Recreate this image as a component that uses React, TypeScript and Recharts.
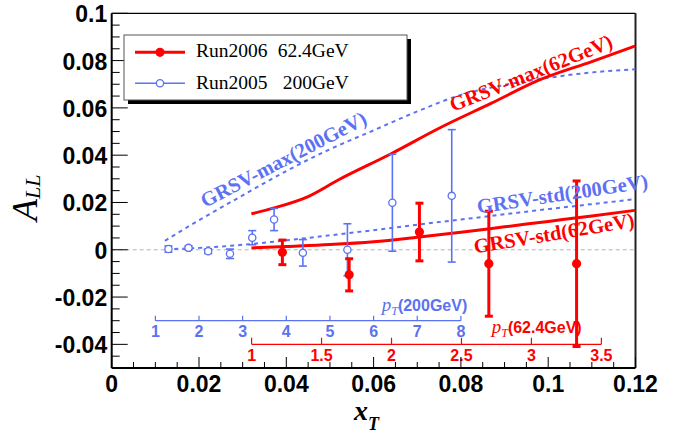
import React from 'react';
import { ComposedChart, Line, Scatter, ErrorBar, XAxis, YAxis, ReferenceLine } from 'recharts';

const RED = '#ff0000';
const BLUE = '#5b72f2';
const SANS = '"Liberation Sans", Arial, sans-serif';
const SERIF = '"Liberation Serif", "Times New Roman", serif';

// Run2006 62.4 GeV (filled red)
const run06X = [0.0391, 0.0544, 0.0705, 0.0864, 0.1065];
const run06Y = [-0.0011, -0.0106, 0.0075, -0.0059, -0.0059];
const run06Err = [0.0052, 0.0068, 0.0122, 0.0222, 0.035];

// Run2005 200 GeV (open blue)
const run05X = [0.013, 0.0176, 0.0221, 0.0271, 0.0322, 0.0372, 0.0438, 0.054, 0.0643, 0.0779];
const run05Y = [0.0003, 0.0008, -0.0006, -0.0017, 0.0051, 0.0128, -0.0013, 0.0, 0.0199, 0.0228];
const run05Err = [0.0013, 0.0008, 0.001, 0.002, 0.003, 0.0047, 0.0056, 0.011, 0.0205, 0.028];

// theory curves
const maxX62 = [0.032, 0.037, 0.045, 0.052, 0.064, 0.075, 0.087, 0.098, 0.11, 0.12];
const maxY62 = [0.0152, 0.0176, 0.0225, 0.0296, 0.0406, 0.0514, 0.062, 0.0718, 0.0796, 0.0862];
const stdX62 = [0.032, 0.04, 0.05, 0.06, 0.07, 0.08, 0.09, 0.1, 0.11, 0.12];
const stdY62 = [0.0008, 0.0014, 0.0022, 0.0034, 0.0053, 0.0074, 0.0097, 0.012, 0.0143, 0.0167];
const maxX200 = [0.0122, 0.02, 0.03, 0.04, 0.05, 0.06, 0.07, 0.08, 0.09, 0.1, 0.11, 0.12];
const maxY200 = [0.0038, 0.0125, 0.023, 0.0333, 0.0425, 0.0505, 0.0585, 0.0655, 0.0697, 0.0727, 0.075, 0.0763];
const stdX200 = [0.0125, 0.02, 0.03, 0.04, 0.05, 0.06, 0.07, 0.08, 0.09, 0.1, 0.11, 0.12];
const stdY200 = [0.0002, 0.0008, 0.0021, 0.004, 0.0061, 0.0083, 0.0106, 0.0128, 0.015, 0.0172, 0.0193, 0.0214];

// axis ticks (every 0.005, labelled every 0.02)
const xTicks = [0, 0.005, 0.01, 0.015, 0.02, 0.025, 0.03, 0.035, 0.04, 0.045, 0.05, 0.055, 0.06,
  0.065, 0.07, 0.075, 0.08, 0.085, 0.09, 0.095, 0.1, 0.105, 0.11, 0.115, 0.12];
const yTicks = [-0.05, -0.045, -0.04, -0.035, -0.03, -0.025, -0.02, -0.015, -0.01, -0.005, 0,
  0.005, 0.01, 0.015, 0.02, 0.025, 0.03, 0.035, 0.04, 0.045, 0.05, 0.055, 0.06, 0.065, 0.07,
  0.075, 0.08, 0.085, 0.09, 0.095, 0.1];

// secondary pT scales
const pt200Ticks = [1, 2, 3, 4, 5, 6, 7, 8];
const pt62Ticks = [1, 1.5, 2, 2.5, 3, 3.5];
const pt62Labels = ['1', '1.5', '2', '2.5', '3', '3.5'];

const zip = (xs: number[], ys: number[], es?: number[]) =>
  xs.map((x, i) => ({ x, y: ys[i], err: es ? es[i] : 0 }));

const run06 = zip(run06X, run06Y, run06Err);
const run05 = zip(run05X, run05Y, run05Err);
const max62 = zip(maxX62, maxY62);
const std62 = zip(stdX62, stdY62);
const max200 = zip(maxX200, maxY200);
const std200 = zip(stdX200, stdY200);

const isMajor = (v: number) => Math.abs(Math.round(v * 1000)) % 20 === 0;
const fmt = (v: number) => String(Number(v.toFixed(3)));

const YTick = (props: any) => {
  const { x, y, payload } = props;
  const major = isMajor(payload.value);
  return (
    <g>
      <line x1={x} y1={y} x2={x + (major ? 16 : 8)} y2={y} stroke="#000" strokeWidth={1} />
      {major && (
        <text x={x - 4.5} y={y + 9} textAnchor="end" fontFamily={SANS} fontWeight="bold" fontSize={23} fill="#000">
          {fmt(payload.value)}
        </text>
      )}
    </g>
  );
};

const XTick = (props: any) => {
  const { x, y, payload } = props;
  const major = isMajor(payload.value);
  return (
    <g>
      <line x1={x} y1={y} x2={x} y2={y - (major ? 11 : 6)} stroke="#000" strokeWidth={1} />
      {major && (
        <text x={x} y={y + 24} textAnchor="middle" fontFamily={SANS} fontWeight="bold" fontSize={23} fill="#000">
          {fmt(payload.value)}
        </text>
      )}
    </g>
  );
};

const ptLabel = (text: string, color: string) => (p: any) => {
  const vb = p.viewBox || {};
  return (
    <text x={vb.x + (vb.width || 0) / 2} y={vb.y + (vb.height || 0) + 16.5} textAnchor="middle"
      fontFamily={SANS} fontWeight="bold" fontSize={16} fill={color}>
      {text}
    </text>
  );
};

const openCircle = (p: any) => <circle cx={p.cx} cy={p.cy} r={3.6} fill="#fff" stroke={BLUE} strokeWidth={1.3} />;
const fullCircle = (p: any) => <circle cx={p.cx} cy={p.cy} r={4.6} fill={RED} />;

export default function App() {
  const y200 = -0.03;
  const y62 = -0.04;
  return (
    <div style={{ position: 'absolute', left: 0, top: 0, width: 684, height: 439, background: '#fff' }}>
      <ComposedChart width={684} height={439} margin={{ top: 13.3, right: 48.5, bottom: 21, left: 51.7 }}>
        <XAxis type="number" dataKey="x" domain={[0, 0.12]} ticks={xTicks} interval={0}
          tick={<XTick />} tickLine={false} tickSize={0} tickMargin={0} height={50}
          axisLine={{ stroke: '#000', strokeWidth: 2 }} allowDataOverflow />
        <YAxis type="number" dataKey="y" domain={[-0.05, 0.1]} ticks={yTicks} interval={0}
          tick={<YTick />} tickLine={false} tickSize={0} tickMargin={0} width={60}
          axisLine={{ stroke: '#000', strokeWidth: 2 }} allowDataOverflow />

        <ReferenceLine y={0} stroke="#b4b4b4" strokeDasharray="4 3" strokeWidth={1} />
        <ReferenceLine y={0.1} stroke="#000" strokeWidth={1.2} />
        <ReferenceLine x={0.12} stroke="#222" strokeWidth={2} />

        {/* pT(200GeV) scale */}
        <ReferenceLine segment={[{ x: (2 * pt200Ticks[0]) / 200, y: y200 }, { x: (2 * pt200Ticks[pt200Ticks.length - 1]) / 200, y: y200 }]}
          stroke={BLUE} strokeWidth={1.2} />
        {pt200Ticks.map((pt) => (
          <ReferenceLine key={`b${pt}`} segment={[{ x: (2 * pt) / 200, y: y200 + 0.0021 }, { x: (2 * pt) / 200, y: y200 }]}
            stroke={BLUE} strokeWidth={1.2} label={ptLabel(String(pt), BLUE)} />
        ))}
        {/* pT(62.4GeV) scale */}
        <ReferenceLine segment={[{ x: (2 * pt62Ticks[0]) / 62.4, y: y62 }, { x: (2 * pt62Ticks[pt62Ticks.length - 1]) / 62.4, y: y62 }]}
          stroke={RED} strokeWidth={1.2} />
        {pt62Ticks.map((pt, i) => (
          <ReferenceLine key={`r${pt}`} segment={[{ x: (2 * pt) / 62.4, y: y62 + 0.0028 }, { x: (2 * pt) / 62.4, y: y62 }]}
            stroke={RED} strokeWidth={1.2} label={ptLabel(pt62Labels[i], RED)} />
        ))}

        <Line data={max200} dataKey="y" type="monotone" stroke={BLUE} strokeWidth={2} strokeDasharray="4 4" dot={false} isAnimationActive={false} />
        <Line data={std200} dataKey="y" type="monotone" stroke={BLUE} strokeWidth={2} strokeDasharray="4 4" dot={false} isAnimationActive={false} />
        <Line data={max62} dataKey="y" type="monotone" stroke={RED} strokeWidth={3} dot={false} isAnimationActive={false} />
        <Line data={std62} dataKey="y" type="monotone" stroke={RED} strokeWidth={3} dot={false} isAnimationActive={false} />

        <Scatter data={run05} dataKey="y" shape={openCircle} isAnimationActive={false}>
          <ErrorBar dataKey="err" direction="y" width={4} stroke={BLUE} strokeWidth={1.6} />
        </Scatter>
        <Scatter data={run06} dataKey="y" shape={fullCircle} isAnimationActive={false}>
          <ErrorBar dataKey="err" direction="y" width={4} stroke={RED} strokeWidth={3} />
        </Scatter>
      </ComposedChart>

      <svg width={684} height={439} style={{ position: 'absolute', left: 0, top: 0, pointerEvents: 'none' }}>
        {/* legend */}
        <rect x={128} y={39} width={283} height={65} fill="#000" />
        <rect x={124} y={35} width={283} height={65} fill="#fff" stroke="#555" strokeWidth={1} />
        <line x1={135} y1={52.3} x2={185} y2={52.3} stroke={RED} strokeWidth={3} />
        <circle cx={160} cy={52.3} r={4.6} fill={RED} />
        <text y={56.7} fontFamily={SERIF} fontSize={19.5} fill="#000">
          <tspan x={196}>Run2006</tspan>
          <tspan x={277.7}>62.4GeV</tspan>
        </text>
        <line x1={135} y1={83.3} x2={185} y2={83.3} stroke={BLUE} strokeWidth={1.5} />
        <circle cx={160} cy={83.3} r={3.6} fill="#fff" stroke={BLUE} strokeWidth={1.3} />
        <text y={89.3} fontFamily={SERIF} fontSize={19.5} fill="#000">
          <tspan x={196}>Run2005</tspan>
          <tspan x={282.7}>200GeV</tspan>
        </text>

        {/* curve labels */}
        <text x={453} y={112} transform="rotate(-22 453 112)" fontFamily={SERIF}
          fontWeight="bold" fontSize={20.5} fill={RED}>GRSV-max(62GeV)</text>
        <text x={205} y={208} transform="rotate(-27.5 205 208)" fontFamily={SERIF}
          fontWeight="bold" fontSize={20.5} fill={BLUE}>GRSV-max(200GeV)</text>
        <text x={478} y={213.5} transform="rotate(-8.5 478 213.5)" fontFamily={SERIF}
          fontWeight="bold" fontSize={20.5} fill={BLUE}>GRSV-std(200GeV)</text>
        <text x={475} y={253.5} transform="rotate(-9.5 475 253.5)" fontFamily={SERIF}
          fontWeight="bold" fontSize={20.5} fill={RED}>GRSV-std(62GeV)</text>

        {/* pT scale titles */}
        <text x={381.7} y={311} fill={BLUE}>
          <tspan fontFamily={SERIF} fontStyle="italic" fontSize={19}>p</tspan>
          <tspan fontFamily={SERIF} fontStyle="italic" fontSize={12} dy={4}>T</tspan>
          <tspan fontFamily={SANS} fontWeight="bold" fontSize={16} dy={-4}>(200GeV)</tspan>
        </text>
        <text x={491.7} y={333} fill={RED}>
          <tspan fontFamily={SERIF} fontStyle="italic" fontSize={19}>p</tspan>
          <tspan fontFamily={SERIF} fontStyle="italic" fontSize={12} dy={4}>T</tspan>
          <tspan fontFamily={SANS} fontWeight="bold" fontSize={16} dy={-4}>(62.4GeV)</tspan>
        </text>

        {/* axis titles */}
        <text x={354} y={420} fontFamily={SERIF} fontStyle="italic" fontWeight="bold" fill="#000">
          <tspan fontSize={28}>x</tspan>
          <tspan fontSize={18} dy={10}>T</tspan>
        </text>
        <text x={37} y={221} transform="rotate(-90 37 221)" fontFamily={SERIF} fontStyle="italic" fill="#000">
          <tspan fontSize={36}>A</tspan>
          <tspan fontSize={22} dy={3}>LL</tspan>
        </text>
      </svg>
    </div>
  );
}
